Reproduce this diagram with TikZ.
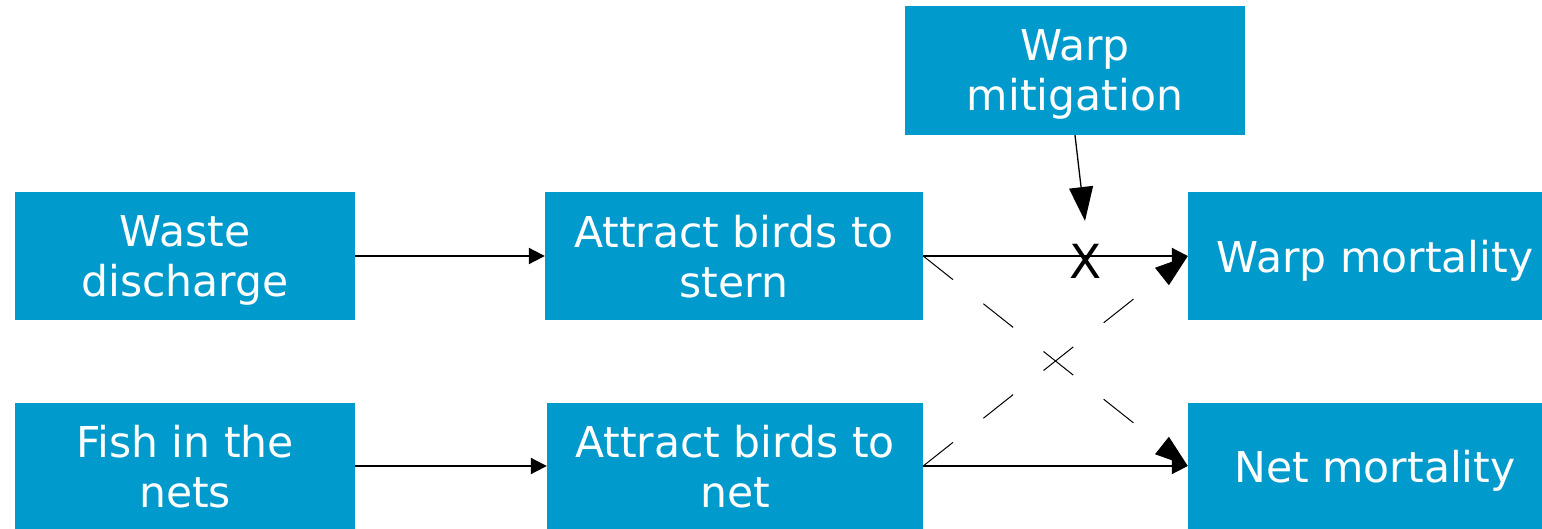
\documentclass[tikz,border=0pt]{standalone}
\usepackage{fontspec}
\setmainfont{DejaVu Sans}
\usetikzlibrary{arrows.meta}
\definecolor{boxblue}{RGB}{0,155,204}
\begin{document}
\begin{tikzpicture}[x=1pt,y=-1pt,
  box/.style={fill=boxblue, text=white, inner sep=0pt, align=center,
    font=\fontsize{42.5}{50}\selectfont, text depth=-2pt},
  twoline/.style={text depth=-8pt},
  flow/.style={line width=2pt, -{Triangle[length=16pt,width=16pt]}},
  crossflow/.style={line width=1pt, dash pattern=on 38pt off 38.8pt,
    -{Triangle[length=33pt,width=22pt]}},
  mitigflow/.style={line width=1.3pt, -{Triangle[length=34pt,width=24pt]}}]
\useasboundingbox (0,0) rectangle (1542,529);

% sources
\node[box, twoline, minimum width=340pt, minimum height=128pt] (waste) at (185,256) {Waste\\discharge};
\node[box, twoline, minimum width=340pt, minimum height=126pt] (fish) at (185,466) {Fish in the\\nets};

% attraction
\node[box, twoline, minimum width=378pt, minimum height=128pt] (stern) at (734,256) {Attract birds to\\stern};
\node[box, twoline, minimum width=376pt, minimum height=126pt] (netb) at (735,466) {Attract birds to\\net};

% mitigation
\node[box, twoline, minimum width=340pt, minimum height=129pt] (mitig) at (1075,70.5) {Warp\\mitigation};

% outcomes
\node[box, minimum width=354pt, minimum height=128pt] (warpm) at (1365,256) {\hspace*{20pt}Warp mortality};
\node[box, minimum width=354pt, minimum height=126pt] (netm) at (1365,466) {\hspace*{20pt}Net mortality};

% main flows
\draw[flow] (waste) -- (stern);
\draw[flow] (fish) -- (netb);
\draw[flow] (stern) -- (warpm);
\draw[flow] (netb) -- (netm);

% crossed links
\draw[crossflow] (stern.east) -- (netm.west);
\draw[crossflow] (netb.east) -- (warpm.west);

% mitigation acting on the warp link
\coordinate (xtip) at (1085,221);
\draw[mitigflow] (mitig.south) -- (xtip);
\node[font=\fontsize{47}{47}\selectfont, inner sep=0pt] (xmark) at (1085.5,261) {X};
\end{tikzpicture}
\end{document}
